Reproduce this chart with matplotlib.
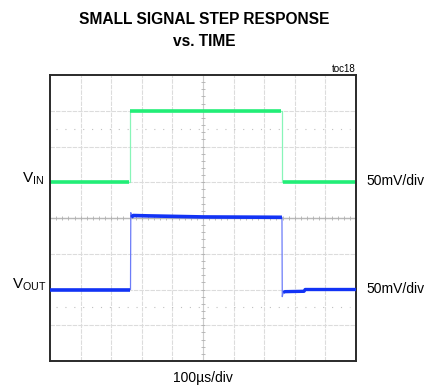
import matplotlib
matplotlib.use("Agg")
import matplotlib.pyplot as plt

plt.rcParams['font.family'] = ['Liberation Sans', 'DejaVu Sans']
plt.rcParams['mathtext.fontset'] = 'custom'
plt.rcParams['mathtext.rm'] = 'Liberation Sans'

# screen is 10 x 8 divisions, y measured from the centre line
n_xdiv = 10
n_ydiv = 8

# flat parts of each trace: (start div, end div, level div)
vin_segments = [(0.0, 2.61, 1.0), (2.61, 7.58, 3.0), (7.58, 10.0, 1.0)]
vout_t = [0.0, 2.63, 2.64, 2.66, 2.72, 3.2, 5.0, 7.58, 7.59, 7.62, 7.68, 8.3, 8.34, 10.0]
vout_v = [-2.0, -2.0, 0.15, 0.02, 0.07, 0.06, 0.03, 0.02, -2.2, -2.08, -2.06, -2.05, -2.0, -2.0]

vin_color = '#22ee77'
vout_color = '#1233f5'

fig = plt.figure(figsize=(4.35, 3.88), dpi=100)
ax = fig.add_axes([0.115, 0.0696, 0.7034, 0.737])
ax.set_xlim(0, n_xdiv)
ax.set_ylim(-n_ydiv / 2, n_ydiv / 2)
ax.set_xticks([])
ax.set_yticks([])
for s in ax.spines.values():
    s.set_linewidth(1.4)
    s.set_color('#2a2a2a')

# graticule
for x in range(1, n_xdiv):
    ax.axvline(x, color='#dcdcdc', lw=0.8, ls=(0, (4, 1)), zorder=1)
for y in range(-3, 4):
    ax.axhline(y, color='#dcdcdc', lw=0.8, ls=(0, (4, 1)), zorder=1)
ax.axhline(0, color='#b8b8b8', lw=1.0, zorder=1)
ax.axvline(5, color='#cccccc', lw=0.8, zorder=1)
for y in (2.5, -2.5):
    ax.plot([0.2, 9.8], [y, y], color='#c0c0c0', lw=0.8, ls=(0, (1, 7)), zorder=1)
minor = [i / 5 for i in range(1, n_xdiv * 5)]
ax.plot(minor, [0] * len(minor), ls='none', marker='|', ms=3, mew=0.6, color='#b0b0b0', zorder=1)
minor_y = [i / 5 - 4 for i in range(1, n_ydiv * 5)]
ax.plot([5] * len(minor_y), minor_y, ls='none', marker='_', ms=3, mew=0.6, color='#b0b0b0', zorder=1)

# VIN: thin edges, thick flat parts
vin_t = []
vin_v = []
for t0, t1, lv in vin_segments:
    vin_t += [t0, t1]
    vin_v += [lv, lv]
ax.plot(vin_t, vin_v, color='#88f5b8', lw=0.9, zorder=2)
for t0, t1, lv in vin_segments:
    ax.plot([t0 + 0.02, t1 - 0.02], [lv, lv], color=vin_color, lw=2.6, solid_capstyle='butt', zorder=3)

# VOUT
ax.plot(vout_t, vout_v, color='#6c7cf8', lw=0.9, zorder=2)
ax.plot(vout_t[:2], vout_v[:2], color=vout_color, lw=2.6, solid_capstyle='butt', zorder=3)
ax.plot(vout_t[3:8], vout_v[3:8], color=vout_color, lw=2.6, solid_capstyle='butt', zorder=3)
ax.plot(vout_t[9:], vout_v[9:], color=vout_color, lw=2.4, solid_capstyle='butt', zorder=3)

# labels
fig.text(0.47, 0.95, 'SMALL SIGNAL STEP RESPONSE', ha='center', va='center',
         fontsize=11.2, fontweight='bold')
fig.text(0.47, 0.893, 'vs. TIME', ha='center', va='center',
         fontsize=11.2, fontweight='bold')
fig.text(0.818, 0.823, 'toc18', ha='right', va='center', fontsize=7)
fig.text(0.102, 0.54, r'$\mathregular{V_{IN}}$', ha='right', va='center', fontsize=11)
fig.text(0.107, 0.265, r'$\mathregular{V_{OUT}}$', ha='right', va='center', fontsize=11)
fig.text(0.843, 0.534, '50mV/div', ha='left', va='center', fontsize=10)
fig.text(0.843, 0.256, '50mV/div', ha='left', va='center', fontsize=10)
fig.text(0.467, 0.026, '100\u00b5s/div', ha='center', va='center', fontsize=10)

fig.savefig('out.png', dpi=100)
